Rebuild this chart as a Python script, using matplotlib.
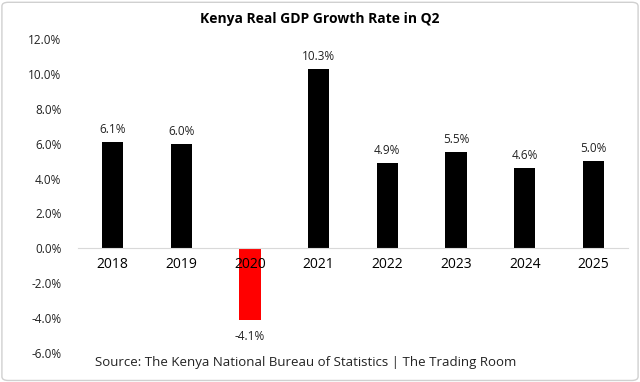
import numpy as np
import matplotlib.pyplot as plt
from matplotlib.patches import FancyBboxPatch

plt.rcParams['font.family'] = ['Open Sans', 'DejaVu Sans']

years = ['2018', '2019', '2020', '2021', '2022', '2023', '2024', '2025']
growth = [6.1, 6.0, -4.1, 10.3, 4.9, 5.5, 4.6, 5.0]
colors = ['red' if v < 0 else 'black' for v in growth]

fig = plt.figure(figsize=(6.4, 3.82), dpi=100)
ax = fig.add_axes([0.122, 0.076, 0.859, 0.822])

x = np.arange(len(years))
bars = ax.bar(x, growth, width=0.31, color=colors)

for xi, v in zip(x, growth):
    if v >= 0:
        ax.text(xi, v + 0.35, f'{v:.1f}%', ha='center', va='bottom', fontsize=8.5, color='#222222')
    else:
        ax.text(xi, v - 0.6, f'{v:.1f}%', ha='center', va='top', fontsize=8.5, color='#222222')

ax.set_xlim(-0.5, 7.5)
ax.set_ylim(-6, 12)
ax.set_yticks(np.arange(-6, 13, 2))
ax.set_yticklabels([f'{t:.1f}%' for t in np.arange(-6, 13, 2)], fontsize=8.5, color='#222222')
ax.set_xticks(x)
ax.set_xticklabels(years, fontsize=8.5, color='#222222')

for s in ['top', 'right', 'left']:
    ax.spines[s].set_visible(False)
ax.spines['bottom'].set_position(('data', 0))
ax.spines['bottom'].set_color('#d9d9d9')
ax.tick_params(axis='both', length=0)
ax.tick_params(axis='x', pad=6)
ax.tick_params(axis='y', pad=12)

fig.text(0.5, 0.95, 'Kenya Real GDP Growth Rate in Q2', ha='center', va='center',
         fontsize=10, fontweight='bold')
fig.text(0.477, 0.052, 'Source: The Kenya National Bureau of Statistics | The Trading Room',
         ha='center', va='center', fontsize=9.5, color='#222222')

border = FancyBboxPatch((0.003, 0.004), 0.994, 0.99, boxstyle='round,pad=0,rounding_size=0.01',
                        transform=fig.transFigure, fill=False, edgecolor='#d0d0d0', linewidth=1)
fig.patches.append(border)

fig.savefig('out.png', dpi=100)
